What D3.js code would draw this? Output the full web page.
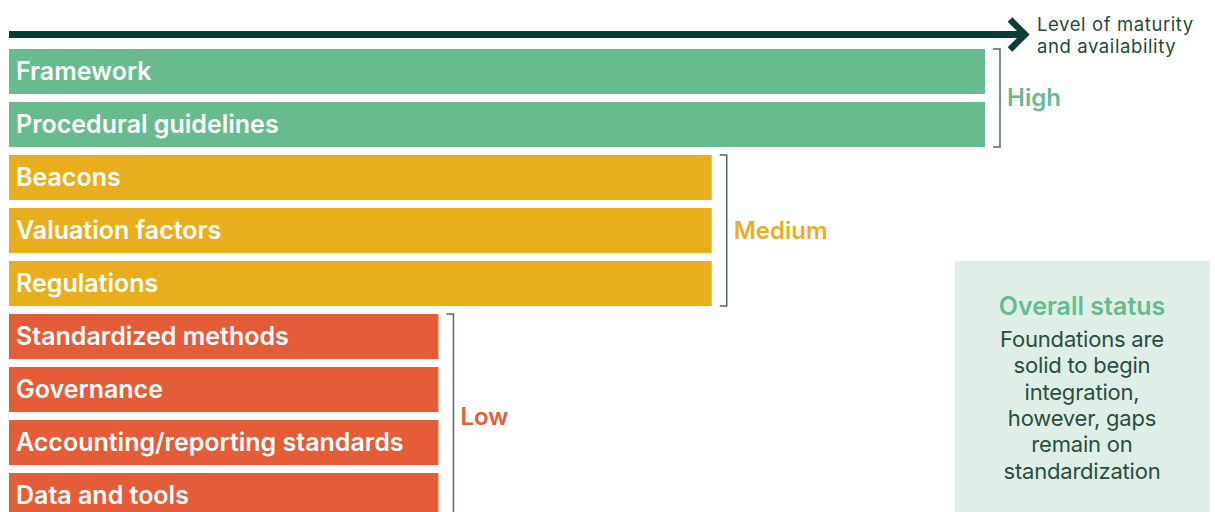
<!DOCTYPE html>
<html>
<head>
<meta charset="utf-8">
<script src="https://cdn.jsdelivr.net/npm/d3@7/dist/d3.min.js"></script>
<style>
html,body{margin:0;padding:0;background:#fff;}
svg{display:block;}
text{font-family:Inter, "Open Sans", sans-serif;}
</style>
</head>
<body>
<svg id="chart" width="1215" height="512"></svg>
<script>
const categories = ["Framework","Procedural guidelines","Beacons","Valuation factors","Regulations","Standardized methods","Governance","Accounting/reporting standards","Data and tools"];
const categoryLevels = ["High","High","Medium","Medium","Medium","Low","Low","Low","Low"];
const levels = ["High","Medium","Low"];
const levelValues = [100, 72, 44];
const levelColors = ["#67bb8f","#e9ae1e","#e55c39"];
const axisLabel = ["Level of maturity","and availability"];
const statusTitle = "Overall status";
const statusLines = ["Foundations are","solid to begin","integration,","however, gaps","remain on","standardization"];

const svg = d3.select("#chart");
const x = d3.scaleLinear().domain([0,100]).range([9,985]);
const y = d3.scaleBand().domain(categories).range([49,518]).paddingInner(0.151).paddingOuter(0);
const valueOf = lv => levelValues[levels.indexOf(lv)];
const colorOf = d3.scaleOrdinal().domain(levels).range(levelColors);

// arrow
const dark = "#0b3d37";
svg.append("line").attr("x1",9).attr("x2",1022).attr("y1",34.5).attr("y2",34.5)
  .attr("stroke",dark).attr("stroke-width",7);
svg.append("path").attr("d","M1010,19.5 L1025,34.5 L1010,49.5")
  .attr("fill","none").attr("stroke",dark).attr("stroke-width",6.5).attr("stroke-linejoin","miter");
svg.selectAll("text.axl").data(axisLabel).join("text").attr("class","axl")
  .attr("fill","#1f4a3b").attr("font-size",18.5).attr("font-weight",400).attr("letter-spacing",0.6)
  .attr("x",1037).attr("y",(d,i)=>31+i*22).text(d=>d);

// bars
const rows = categories.map((c,i)=>({cat:c, level:categoryLevels[i]}));
svg.selectAll("rect.bar").data(rows).join("rect").attr("class","bar")
  .attr("x",x(0)).attr("y",d=>y(d.cat))
  .attr("width",d=>x(valueOf(d.level))-x(0)).attr("height",y.bandwidth())
  .attr("fill",d=>colorOf(d.level));
svg.selectAll("text.lab").data(rows).join("text").attr("class","lab")
  .attr("x",16).attr("y",d=>y(d.cat)+y.bandwidth()/2+8.5)
  .attr("fill","#fff").attr("font-size",25).attr("font-weight",600)
  .text(d=>d.cat);

// brackets
levels.forEach(lv=>{
  const cats = categories.filter((c,i)=>categoryLevels[i]===lv);
  const y0 = y(cats[0]), y1 = y(cats[cats.length-1])+y.bandwidth();
  const bx = x(valueOf(lv))+15;
  svg.append("path").attr("d",`M${bx-7},${y0} H${bx} V${y1} H${bx-7}`)
    .attr("fill","none").attr("stroke","#4f6b5e").attr("stroke-width",1.5);
  svg.append("text").attr("x",bx+7).attr("y",(y0+y1)/2+8.5)
    .attr("fill",colorOf(lv)).attr("font-size",24).attr("font-weight",600)
    .text(lv);
});

// status box
svg.append("rect").attr("x",955).attr("y",261).attr("width",255).attr("height",260).attr("fill","#dfefe7");
svg.append("text").attr("x",1082).attr("y",315).attr("text-anchor","middle")
  .attr("fill","#67bb8f").attr("font-size",25).attr("font-weight",600).text(statusTitle);
svg.append("text").attr("text-anchor","middle").attr("fill","#2b4d3f").attr("font-size",22)
  .attr("letter-spacing",-0.2)
  .selectAll("tspan").data(statusLines).join("tspan")
  .attr("x",1082).attr("y",(d,i)=>347+i*26.3).text(d=>d);
</script>
</body>
</html>
